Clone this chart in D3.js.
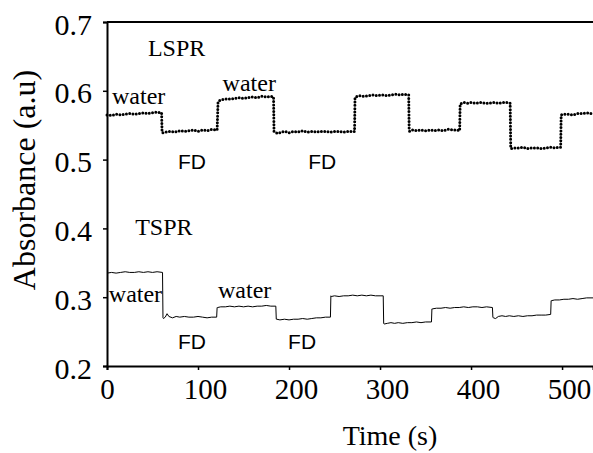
<!DOCTYPE html>
<html><head><meta charset="utf-8">
<script src="https://cdn.jsdelivr.net/npm/d3@7"></script>
<style>body{margin:0;background:#fff}svg{display:block}</style>
</head><body>
<svg id="c" width="593" height="453"></svg>
<script>
// ---- data ----
const xTicks = [0, 100, 200, 300, 400, 500];
const yTicks = [0.2, 0.3, 0.4, 0.5, 0.6, 0.7];

const lsprT = [0,5,10,15,20,25,30,35,40,45,50,55,60,
  60.5,61,65,70,75,80,85,90,95,100,105,110,115,121,
  122,122.5,126,130,135,140,145,150,155,160,165,170,175,180,183,
  183.5,184,188,192,196,200,205,210,215,220,225,230,235,240,245,250,255,260,265,272,
  272.5,273,277,282,287,292,297,302,307,312,317,322,327,331.5,
  332,332.5,336,340,345,350,355,360,365,370,375,380,384,387.5,
  388,388.5,392,396,400,405,410,415,420,425,430,435,440,443,
  443.6,444,448,452,457,462,467,472,477,482,487,492,496,498.5,
  499,499.5,503,507,512,517,522,527,532,534];
const lsprV = [0.565,0.564,0.566,0.565,0.566,0.567,0.566,0.567,0.568,0.567,0.568,0.569,0.568,
  0.540,0.539,0.540,0.541,0.540,0.542,0.541,0.542,0.543,0.541,0.543,0.542,0.544,0.543,
  0.584,0.585,0.587,0.588,0.588,0.589,0.590,0.589,0.590,0.591,0.590,0.592,0.591,0.592,0.591,
  0.541,0.540,0.538,0.540,0.541,0.539,0.541,0.540,0.542,0.540,0.541,0.540,0.541,0.541,0.540,0.541,0.541,0.540,0.541,0.541,
  0.590,0.591,0.593,0.592,0.593,0.594,0.593,0.594,0.593,0.594,0.595,0.594,0.595,0.594,
  0.543,0.541,0.543,0.542,0.543,0.542,0.543,0.542,0.543,0.542,0.544,0.543,0.543,0.542,
  0.581,0.581,0.583,0.582,0.583,0.582,0.583,0.582,0.582,0.583,0.582,0.583,0.583,0.582,
  0.517,0.516,0.517,0.517,0.518,0.516,0.517,0.517,0.516,0.517,0.518,0.517,0.518,0.518,
  0.565,0.565,0.566,0.566,0.565,0.567,0.567,0.568,0.567,0.568];

const tsprT = [0,5,10,15,20,25,30,35,40,45,50,55,61,
  61.5,62,64,66,68,72,76,80,85,90,95,100,105,110,115,120.5,
  121,121.5,125,130,135,140,145,150,155,160,165,170,175,180,185.5,
  186,186.5,190,195,200,205,210,215,220,225,230,235,240,245.5,
  246,246.5,250,255,260,265,270,275,280,285,290,295,300,303.5,
  304,304.5,308,312,316,320,325,330,335,340,345,350,356.5,
  357,357.5,362,367,372,377,382,387,392,397,402,407,412,417,423.5,
  424,424.5,427,430,434,438,442,447,452,457,462,467,472,477,482,487.5,
  488,488.5,492,497,502,507,512,517,522,527,534];
const tsprV = [0.335,0.336,0.335,0.336,0.337,0.336,0.336,0.337,0.336,0.337,0.336,0.337,0.336,
  0.270,0.269,0.271,0.276,0.272,0.270,0.272,0.271,0.272,0.271,0.271,0.272,0.271,0.270,0.271,0.271,
  0.285,0.285,0.286,0.286,0.287,0.286,0.287,0.286,0.287,0.286,0.287,0.287,0.288,0.287,0.287,
  0.268,0.268,0.267,0.268,0.267,0.268,0.268,0.269,0.268,0.269,0.270,0.270,0.271,0.271,
  0.302,0.301,0.302,0.301,0.302,0.302,0.303,0.302,0.303,0.302,0.303,0.302,0.302,0.302,
  0.262,0.261,0.262,0.263,0.262,0.263,0.262,0.263,0.263,0.264,0.263,0.264,0.264,
  0.283,0.283,0.284,0.284,0.285,0.284,0.285,0.285,0.286,0.285,0.286,0.286,0.285,0.286,0.285,
  0.271,0.270,0.269,0.272,0.273,0.272,0.273,0.272,0.273,0.272,0.273,0.273,0.274,0.274,0.274,0.275,
  0.295,0.295,0.296,0.296,0.297,0.297,0.298,0.297,0.298,0.299,0.299];

const notes = [
  {text:"LSPR",  t:45,  v:0.650, font:"serif"},
  {text:"water", t:5.5, v:0.581, font:"serif"},
  {text:"FD",    t:78,  v:0.487, font:"sans"},
  {text:"water", t:127, v:0.599, font:"serif"},
  {text:"FD",    t:221, v:0.487, font:"sans"},
  {text:"TSPR",  t:31,  v:0.390, font:"serif"},
  {text:"water", t:2,   v:0.293, font:"serif"},
  {text:"FD",    t:78,  v:0.2245, font:"sans"},
  {text:"water", t:122, v:0.2985, font:"serif"},
  {text:"FD",    t:199, v:0.2245, font:"sans"}
];

// ---- layout ----
const svg = d3.select("#c");
const m = {l:107, t:22, r:0, b:87};
const W = 593, H = 453;
const x = d3.scaleLinear().domain([0, 534]).range([m.l, W - m.r]);
const y = d3.scaleLinear().domain([0.2, 0.7]).range([H - m.b, m.t]);

const serif = "'Liberation Serif','Times New Roman',serif";
const sans = "'Liberation Sans',Arial,sans-serif";

// top border
svg.append("line").attr("x1", x(0)).attr("x2", W).attr("y1", y(0.7)).attr("y2", y(0.7))
  .attr("stroke", "#000").attr("stroke-width", 2);

// lines
const lineGen = d3.line().x(d => x(d[0])).y(d => y(d[1]));
svg.append("path").datum(lsprT.map((t, i) => [t, lsprV[i]]))
  .attr("d", lineGen).attr("fill", "none").attr("stroke", "#000")
  .attr("stroke-width", 3).attr("stroke-linecap", "round").attr("stroke-dasharray", "0 3.3");
svg.append("path").datum(tsprT.map((t, i) => [t, tsprV[i]]))
  .attr("d", lineGen).attr("fill", "none").attr("stroke", "#000").attr("stroke-width", 1);

// axes
const xAxis = svg.append("g").attr("transform", `translate(0,${y(0.2)})`)
  .call(d3.axisBottom(x).tickValues(xTicks).tickSize(4).tickPadding(8));
xAxis.select(".domain").attr("stroke-width", 2);
xAxis.selectAll(".tick line").attr("stroke-width", 1.5);
xAxis.selectAll(".tick text").attr("font-family", serif).attr("font-size", 29)
  .attr("fill", "#000").attr("dx", d => d === 0 ? 0 : 7);

const yAxis = svg.append("g").attr("transform", `translate(${x(0)},0)`)
  .call(d3.axisLeft(y).tickValues(yTicks).tickFormat(d3.format(".1f")).tickSize(4).tickPadding(11));
yAxis.select(".domain").attr("stroke-width", 2);
yAxis.selectAll(".tick line").attr("stroke-width", 1.5);
yAxis.selectAll(".tick text").attr("font-family", serif).attr("font-size", 30)
  .attr("fill", "#000").attr("dy", "0.4em");

// titles
svg.append("text").attr("x", 390).attr("y", 445).attr("text-anchor", "middle")
  .attr("font-family", serif).attr("font-size", 28).text("Time (s)");
svg.append("text").attr("transform", "translate(35,180) rotate(-90)").attr("text-anchor", "middle")
  .attr("font-family", serif).attr("font-size", 32).text("Absorbance (a.u)");

// annotations
svg.selectAll("text.note").data(notes).join("text").attr("class", "note")
  .attr("x", d => x(d.t)).attr("y", d => y(d.v))
  .attr("font-family", d => d.font === "sans" ? sans : serif)
  .attr("font-size", d => d.font === "sans" ? 21 : 24)
  .text(d => d.text);
</script>
</body></html>
